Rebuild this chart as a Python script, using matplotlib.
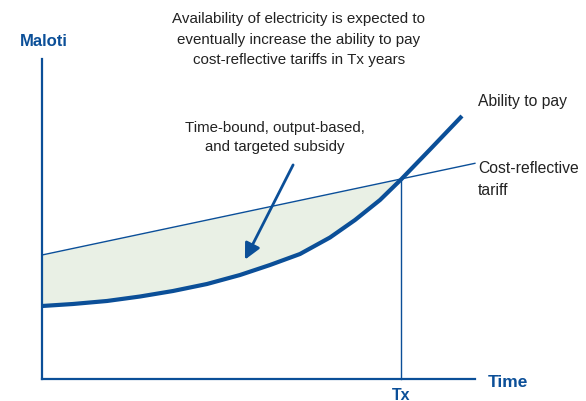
import matplotlib.pyplot as plt

# time axis in arbitrary years, money in arbitrary maloti
tx = 7.98
time_pts = [0, 0.689, 1.444, 2.178, 2.911, 3.667, 4.4, 5.067, 5.733, 6.4, 6.956, 7.511, 7.978, 8.622, 9.333]
ability = [2.281, 2.344, 2.438, 2.578, 2.75, 2.969, 3.25, 3.563, 3.906, 4.422, 4.969, 5.594, 6.234, 7.172, 8.219]
tariff_t = [0, 9.62]
tariff_v = [3.875, 6.74]
t_end = 9.62
y_top = 10

blue = "#0b4f98"
fill = "#e9f0e5"
plt.rcParams['font.family'] = ['Liberation Sans', 'DejaVu Sans']

fig = plt.figure(figsize=(5.86, 4.02), dpi=100)
ax = fig.add_axes([0, 0, 1, 1])
ax.set_xlim(-42 / 45, 544 / 45)
ax.set_ylim(-22 / 32, 380 / 32)
ax.axis("off")

# shaded gap between tariff and ability to pay, up to Tx
def tariff_at(t):
    return tariff_v[0] + (tariff_v[1] - tariff_v[0]) * t / (tariff_t[1] - tariff_t[0])

ft = [t for t in time_pts if t <= tx]
fa = ability[:len(ft)]
ax.fill_between(ft, fa, [tariff_at(t) for t in ft], color=fill, lw=0, zorder=1)

ax.plot(tariff_t, tariff_v, color=blue, lw=1.0, zorder=2)
ax.plot(time_pts, ability, color=blue, lw=3, zorder=3, solid_capstyle="butt", solid_joinstyle="round")
ax.plot([tx, tx], [0, tariff_at(tx)], color=blue, lw=1.0, zorder=2)

# axes
ax.plot([0, 0], [0, y_top], color=blue, lw=1.6, zorder=4)
ax.plot([0, t_end], [0, 0], color=blue, lw=1.6, zorder=4)

ax.text(-0.49, 10.57, "Maloti", color=blue, fontsize=12, fontweight="bold", ha="left", va="center")
ax.text(9.91, -0.09, "Time", color=blue, fontsize=12.5, fontweight="bold", ha="left", va="center")
ax.text(tx, -0.5, "Tx", color=blue, fontsize=11.5, fontweight="bold", ha="center", va="center")

ax.text(9.69, 8.69, "Ability to pay", color="#222222", fontsize=11.3, ha="left", va="center")
ax.text(9.69, 6.84, "Cost-reflective\ntariff", color="#222222", fontsize=11.3, ha="left", va="top", linespacing=1.55)

ax.text(5.71, 11.5, "Availability of electricity is expected to\neventually increase the ability to pay\ncost-reflective tariffs in Tx years",
        color="#222222", fontsize=10.9, ha="center", va="top", linespacing=1.6)
ax.text(5.18, 8.09, "Time-bound, output-based,\nand targeted subsidy",
        color="#222222", fontsize=10.8, ha="center", va="top", linespacing=1.4)

ax.annotate("", xy=(4.51, 3.73), xytext=(5.58, 6.69),
            arrowprops=dict(arrowstyle="-|>", color=blue, lw=2, mutation_scale=24, shrinkA=0, shrinkB=0))

fig.savefig("out.png", dpi=100)
